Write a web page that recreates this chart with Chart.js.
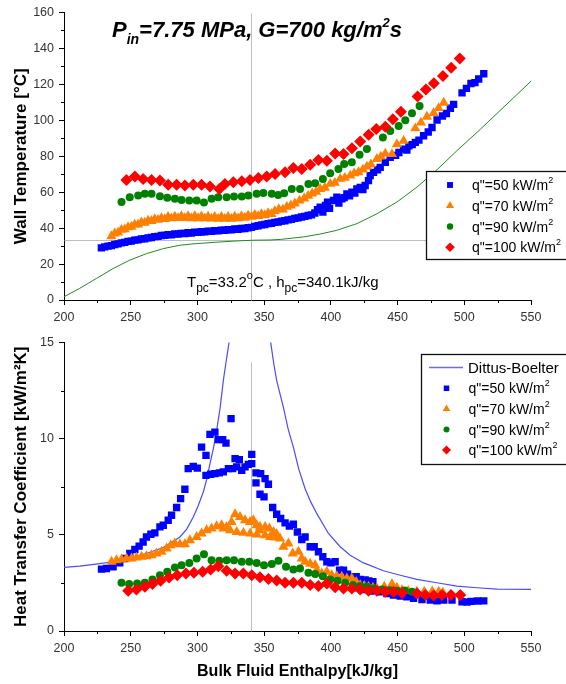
<!DOCTYPE html>
<html>
<head>
<meta charset="utf-8">
<script src="https://cdn.jsdelivr.net/npm/chart.js@4.4.1/dist/chart.umd.min.js"></script>
<style>
  body { margin: 0; background: #fff; }
  #wrap { position: relative; width: 566px; height: 684px; overflow: hidden; }
  canvas { position: absolute; left: 0; }
</style>
</head>
<body>
<div id="wrap">
  <canvas id="wall" width="566" height="330" style="top:0"></canvas>
  <canvas id="htc" width="566" height="354" style="top:330px"></canvas>
</div>
<script>
// pseudo-critical point
const hPc = 340.1;
const tPc = 33.2;

// --- top panel: wall temperature [degC] vs bulk enthalpy [kJ/kg] ---
const q50Wall = [[228,29],[230.5,29.6],[233,30],[235.5,30.3],[238,30.9],[240.5,31.2],[243,31.8],[245.5,32.1],[248,32.6],[250.5,32.8],[253,33.3],[255.5,33.5],[258,34],[260.5,34.1],[263,34.6],[265.5,34.8],[268,35.3],[270.5,35.4],[273,35.9],[275.5,36],[278,36.4],[280.5,36.3],[283,36.8],[285.5,36.7],[288,37.1],[290.5,37],[293,37.4],[295.5,37.3],[298,37.7],[300.5,37.6],[303,38],[305.5,37.9],[308,38.3],[310.5,38.2],[313,38.6],[315.5,38.5],[318,38.9],[320.5,38.8],[323,39.2],[325.5,39.1],[328,39.5],[330.5,39.4],[333,39.8],[335.5,39.8],[338,40.2],[340.5,40.4],[343,41],[345.5,41.3],[348,41.8],[350.5,42],[353,42.5],[355.5,42.7],[358,43.2],[360.5,43.4],[363,43.9],[365.5,44.1],[368,44.6],[370.5,44.9],[373,45.4],[375.5,45.7],[378,46.2],[380.5,46.5],[383,47],[385.5,47.4],[388,48.4],[390,50.2],[392,51.7],[394,49],[396,52.6],[397.5,54.4],[399,51],[402,55.4],[404.5,57.2],[406,54],[408.3,56.3],[410,57],[412,59.1],[414,58],[415.8,60],[418,59.5],[419.5,61.8],[422,62.7],[424,61.5],[425.7,63.7],[428.2,66.4],[429.5,69.2],[432,71],[435,72.5],[437,73.8],[440.8,76.6],[444.5,79.4],[448.5,80.5],[451,82.1],[454.5,84],[457,83.4],[458.5,85.8],[461,86.5],[463.3,87.7],[466,89],[469.5,91.4],[473,93.5],[475.8,96],[479.6,100.2],[483.6,102.4],[486.6,103.8],[489.6,106.7],[492,108.9],[498.3,115.3],[501.6,117.8],[505,120.5],[508,121],[510.8,123],[514.6,125.9]];
const q70Wall = [[235.5,35.5],[238,37],[240.5,37.5],[243,39],[245.5,39.3],[248,40.5],[250.5,40.8],[253,42],[255.5,42],[258,43.2],[260.5,43],[263,44.2],[265.5,44],[268,45],[270.5,44.6],[273,45.6],[275.5,45],[278,46.2],[280.5,45.4],[283,46.4],[285.5,45.6],[288,46.6],[290.5,45.6],[293,46.6],[295.5,45.5],[298,46.6],[300.5,45.5],[303,46.5],[305.5,45.4],[308,46.4],[310.5,45.3],[313,46.3],[315.5,45.2],[318,46.3],[320.5,45.2],[323,46.3],[325.5,45.2],[328,46.4],[330.5,45.4],[333,46.6],[335.5,45.8],[338,47],[340.5,46.3],[343,47.4],[345.5,46.7],[348,47.8],[350.5,47.2],[353,48.4],[355.5,47.9],[358,49.5],[361,50.5],[364,50.3],[367,51.8],[370,52.6],[373,53.7],[376.5,55.3],[380,56.5],[383,58],[386,59.3],[389,60.2],[392,61.8],[395.5,62.5],[399.5,64.6],[403,65.2],[407,67.4],[410.5,68],[414.5,69.2],[417.5,70.5],[420.7,71.1],[424,72.6],[427,74.2],[430,75.5],[434.5,78.5],[437.5,79.8],[440.8,81.5],[445.8,81.2],[449.5,86.6],[454.5,88.6],[463.3,95.5],[467.5,98.7],[472,102],[477,104],[480.8,106.8],[484.6,109.8]];
const q90Wall = [[243.1,54.5],[249.3,57.2],[255.6,58.1],[260.6,59.1],[265.6,59.1],[271.9,57.8],[277.4,56.9],[283.1,56.3],[288.1,55.7],[293.9,55.4],[299.4,55.4],[304.9,54.3],[310.6,56.3],[315.6,57.2],[321.9,57.2],[327.4,57.6],[333.2,57.6],[338.2,58.1],[344.4,59.1],[349.4,59.6],[355.7,59.1],[360.5,58.4],[365,59.4],[370.7,61.8],[376.9,61.8],[383.2,64.6],[388.2,65],[394,67.4],[399.5,70.5],[405.7,72.9],[410,75.7],[415.7,76.6],[421.5,80.8],[427,84],[439,90.4],[444.5,94.1],[450.8,96.9],[455.8,100],[460.8,103.9],[466.5,108]];
const q100Wall = [[246.8,66.8],[253.1,68.7],[259.3,67.4],[265.6,66.8],[271.9,66.5],[278.1,64.2],[284.4,64.2],[290.6,63.7],[296.9,64.2],[303.1,64.2],[309.4,63.1],[316.4,61.8],[320.6,64.6],[326.9,65.5],[333.2,66.1],[339.4,66.8],[345.7,67.9],[351.9,68.7],[358.2,70.1],[365.7,71.1],[371.9,73.5],[378.2,72.9],[384.5,75.3],[390.7,77.9],[397,77.5],[403.2,81.6],[409.5,81.2],[415.8,84.5],[422,88.2],[428.3,91.9],[434,95.1],[440.8,96.4],[446.5,100.6],[452.5,104.8],[465,113.3],[471.2,117.2],[477.2,120.6],[484,124.6],[490.2,129.2],[496.6,134.4]];
// bulk fluid temperature
const bulkTemp = [[200,1.8],[211.8,6.5],[224.3,12],[236.8,17.5],[249.3,22.2],[261.8,25.8],[274.4,28.6],[286.9,30.5],[299.4,31.4],[316.9,32.3],[330,32.9],[343,33.3],[354.4,33.4],[362,33.7],[379.5,35.1],[392,36.7],[404.5,38.8],[419.5,42.5],[434.5,48],[449.5,54.5],[464.5,62.8],[480,72.8],[494.5,83.1],[512,95],[537,112.6],[550,121.8]];

// --- bottom panel: heat transfer coefficient [kW/m2K] ---
const q50Htc = [[228.1,3.22],[231.8,3.25],[236.8,3.34],[241.8,3.54],[245.6,3.77],[249.3,4.03],[253.1,4.24],[256.3,4.41],[259.3,4.63],[261.8,4.89],[265.1,5.03],[268.1,5.1],[271.9,5.41],[274.4,5.5],[278.1,5.76],[280.6,6.02],[284.4,6.42],[287.4,6.88],[290.6,7.37],[293.1,8.44],[296.9,8.56],[299.9,8.47],[303.1,9.56],[306.4,9.13],[309.4,10.22],[313.1,10.34],[315.6,9.95],[318.9,9.95],[321.4,9.77],[325.2,11.04],
  [306.4,8.09],[309.9,8.15],[313.1,8.18],[316.4,8.22],[319.4,8.27],[323.2,8.44],[326.4,8.44],[328.2,8.96],[331.4,8.91],[329.4,8.53],[333.2,8.35],[335.7,8.53],[338.2,8.66],[340.7,9.18],[340.7,8.7],
  [343.9,8.22],[347.4,8.18],[343.9,7.7],[350.7,7.92],[353.2,7.63],[346.9,7.11],[349.9,6.97],[356.4,6.42],[359.4,6.07],[362.4,5.85],[365.7,5.62],[368.9,5.45],[371.9,5.55],[374.9,5.15],[378.2,4.76],[380.7,4.89],[384.5,4.38],[387.5,4.38],[390.7,4.12],[394,3.86],[397,3.6],[400,3.54],[403.2,3.6],[406.5,3.16],[409.5,3.16],[412.5,2.95],[415.7,2.82],[419,2.82],[422,2.68],[425.7,2.65],[428.5,2.6],[431.5,2.56],
  [420,2.25],[425,2.15],[430,2.08],[437,2.04],[442,1.95],[447,1.87],[452,1.82],[457,1.78],[462,1.7],[468.3,1.64],[474.5,1.61],[479.5,1.57],[484.6,1.61],[490.8,1.61],[498.3,1.52],[502,1.5],[505,1.54],[510,1.56],[514.6,1.57]];
const q70Htc = [[235.6,3.6],[239.3,3.68],[243.1,3.72],[246.8,3.77],[250.6,3.77],[254.3,3.82],[258.1,3.86],[261.8,3.89],[265.6,3.94],[269.3,4.03],[273.1,4.12],[276.9,4.29],[280,4.45],[283.1,4.55],[286.9,4.51],[290.6,4.51],[294.4,4.72],[299.4,4.89],[303.1,5.07],[306.9,5.24],[310.6,5.33],[314.4,5.45],[318.1,5.5],[321.9,5.41],[325.6,5.67],[328.2,6.07],[331.9,5.93],[335.7,5.76],[339.4,5.67],[341.9,5.76],[344.4,5.5],[346.9,5.41],[350.7,5.41],[353.9,5.33],[357,5.15],[359.4,5.03],
  [319.5,5.33],[324.5,5.24],[329.5,5.15],[334.5,5.1],[339.5,5.07],[344.5,5.02],[346.9,5.24],[350.7,4.98],[354.4,4.89],[358,4.86],[361.9,4.81],[364.4,4.38],[368.2,4.55],[371.4,4.03],[375.7,4.12],[378.2,3.77],[380.7,3.6],[384.5,3.5],[388.2,3.42],[389.5,3.16],[393.2,2.99],[397,3.08],[400.7,2.9],[404.5,2.85],[408.2,2.82],[412,2.73],[415.7,2.73],[419,2.55],[422,2.39],[425,2.35],[428.2,2.3],[431.5,2.25],[434.5,2.21],[440,2.3],[445.8,2.44],[449.5,2.25],[453.3,2.13],[458,2.08],[464.5,2.04],[470,2.04],[476,2.06],[480.8,2.04],[484,1.99]];
const q90Htc = [[243.1,2.51],[248.8,2.44],[254.8,2.47],[260.6,2.51],[266.3,2.68],[271.9,2.9],[277.4,3.08],[283.1,3.3],[288.1,3.42],[293.9,3.54],[299.4,3.77],[304.9,3.99],[310.6,3.68],[316.4,3.65],[321.9,3.68],[327.4,3.68],[333.2,3.6],[338.9,3.6],[344.4,3.54],[349.9,3.42],[355.7,3.48],[360.7,3.65],[366.4,3.34],[371.9,3.2],[376.9,3.25],[383.2,3.03],[388.2,2.96],[394,2.85],[399.5,2.68],[405,2.61],[410.7,2.51],[416.5,2.39],[422,2.34],[427,2.3],[432,2.21],[438.3,2.16],[444,2.12],[449.5,2.09],[455.3,2.1],[460.8,2.04]];
const q100Htc = [[248.1,2.09],[254.3,2.16],[260.6,2.3],[266.3,2.44],[272.4,2.61],[278.8,2.78],[284.9,2.9],[291.4,2.99],[297.4,3.03],[303.9,3.08],[309.9,3.2],[315.6,3.37],[321.9,3.13],[328.2,2.99],[334.4,2.99],[340.7,2.9],[346.9,2.8],[353.2,2.7],[359.4,2.63],[365.7,2.51],[371.9,2.51],[378.2,2.51],[384.5,2.39],[390.7,2.34],[397,2.47],[403.2,2.27],[409.5,2.21],[415.7,2.21],[422,2.16],[428.2,2.09],[434.5,2.09],[440.8,2.04],[447,2.04],[453.3,1.97],[464.5,1.95],[470.8,1.87],[477,1.84],[483.3,1.87],[490,1.87],[497,1.87]];
// Dittus-Boelter correlation (peak runs off the top of the axis)
const dittusBoelter = [[200,3.31],[211.8,3.37],[224,3.48],[236.8,3.6],[249,3.78],[261.8,4.03],[274.4,4.34],[286.9,4.89],[292,5.3],[296.9,5.93],[300.5,6.5],[304.4,7.23],[307,7.9],[309.4,8.7],[312,9.5],[314.4,10.43],[317,11.6],[319.4,13.02],[321.5,14],[323.9,15.1],[330,20],[340,26],[350,19],[354.9,15.01],[357,14],[359.4,13.02],[364.4,11.64],[368,10.5],[371.9,9.56],[376,8.4],[380.7,7.4],[385,6.7],[389.5,6.1],[398.2,5.07],[407,4.38],[414.5,3.94],[424.5,3.54],[439.5,3.13],[452,2.9],[464.5,2.68],[479.4,2.51],[494.5,2.33],[509.5,2.25],[524.6,2.18],[550,2.16]];

const FONT = '"Liberation Sans", Arial, Helvetica, sans-serif';
Chart.defaults.font.family = FONT;

const PLOT_LEFT = 64;
const PLOT_RIGHT = 531;

const series = [
  {label: 'q"=50 kW/m', style: 'rect',     color: '#0000ff', r: 5.2, wall: q50Wall,  htc: q50Htc},
  {label: 'q"=70 kW/m', style: 'triangle', color: '#ff8000', r: 5.9, wall: q70Wall,  htc: q70Htc},
  {label: 'q"=90 kW/m', style: 'circle',   color: '#008000', r: 4.0, wall: q90Wall,  htc: q90Htc},
  {label: 'q"=100 kW/m', style: 'rectRot', color: '#ff0000', r: 6.0, wall: q100Wall, htc: q100Htc}
];

const toPts = arr => arr.map(p => ({x: p[0], y: p[1]}));

function markerSets(key) {
  return series.map((s, i) => ({
    data: toPts(s[key]),
    pointStyle: s.style,
    pointRadius: s.r,
    backgroundColor: s.color,
    pointBackgroundColor: s.color,
    pointBorderWidth: 0,
    borderWidth: 0,
    order: 4 - i
  }));
}

function rich(ctx, x, y, parts) {
  for (const p of parts) {
    ctx.font = p[1];
    ctx.fillText(p[0], x, y + (p[2] || 0));
    x += ctx.measureText(p[0]).width;
  }
}
const rg = s => `${s}px ${FONT}`;
const bi = s => `italic bold ${s}px ${FONT}`;

const refLines = {
  id: 'refLines',
  beforeDatasetsDraw(chart, args, opts) {
    const {ctx, scales: {x, y}} = chart;
    ctx.save();
    ctx.strokeStyle = '#bdbdbd';
    ctx.lineWidth = 1;
    ctx.beginPath();
    for (const l of opts.lines) {
      const x1 = Math.round(x.getPixelForValue(l[0])) + 0.5, y1 = Math.round(y.getPixelForValue(l[1])) + 0.5;
      const x2 = Math.round(x.getPixelForValue(l[2])) + 0.5, y2 = Math.round(y.getPixelForValue(l[3])) + 0.5;
      ctx.moveTo(x1, y1);
      ctx.lineTo(x2, y2);
    }
    ctx.stroke();
    ctx.restore();
  }
};

const minorTicks = {
  id: 'minorTicks',
  afterDraw(chart, args, opts) {
    const {ctx, chartArea, scales: {x, y}} = chart;
    ctx.save();
    ctx.strokeStyle = '#000';
    ctx.lineWidth = 1;
    ctx.beginPath();
    for (let v = 225; v < 550; v += 50) {
      const px = Math.round(x.getPixelForValue(v)) + 0.5;
      ctx.moveTo(px, chartArea.bottom);
      ctx.lineTo(px, chartArea.bottom + 3);
    }
    for (let v = opts.step / 2; v < opts.max; v += opts.step) {
      const py = Math.round(y.getPixelForValue(v)) + 0.5;
      ctx.moveTo(chartArea.left, py);
      ctx.lineTo(chartArea.left - 3, py);
    }
    ctx.stroke();
    ctx.restore();
  }
};

function drawLegendRows(ctx, x0, y0, dy, scale) {
  series.forEach((s, i) => {
    const y = y0 + i * dy;
    ctx.fillStyle = s.color;
    Chart.helpers.drawPoint(ctx, {pointStyle: s.style, radius: s.r * scale, rotation: 0, borderWidth: 0}, x0, y);
    ctx.fillStyle = '#000';
    rich(ctx, x0 + 22, y + 5, [[s.label, rg(14)], ['2', rg(9), -7]]);
  });
}

const wallDecor = {
  id: 'wallDecor',
  afterDraw(chart) {
    const ctx = chart.ctx;
    ctx.save();
    ctx.fillStyle = '#000';
    ctx.textBaseline = 'alphabetic';
    rich(ctx, 112, 37, [['P', bi(22)], ['in', bi(14), 7], ['=7.75 MPa, G=700 kg/m', bi(22)], ['2', bi(13), -10], ['s', bi(22)]]);
    rich(ctx, 187, 287, [['T', rg(15)], ['pc', rg(12), 5], ['=33.2', rg(15)], ['o', rg(11), -8], ['C , h', rg(15)], ['pc', rg(12), 5], ['=340.1kJ/kg', rg(15)]]);
    ctx.fillStyle = '#fff';
    ctx.fillRect(426.5, 171.5, 200, 88);
    ctx.strokeStyle = '#111';
    ctx.lineWidth = 1.3;
    ctx.strokeRect(426.5, 171.5, 200, 88);
    drawLegendRows(ctx, 450, 185, 20.75, 0.8);
    ctx.restore();
  }
};

const htcDecor = {
  id: 'htcDecor',
  afterDraw(chart) {
    const ctx = chart.ctx;
    ctx.save();
    ctx.textBaseline = 'alphabetic';
    ctx.fillStyle = '#fff';
    ctx.fillRect(421.5, 24.5, 200, 110);
    ctx.strokeStyle = '#111';
    ctx.lineWidth = 1.3;
    ctx.strokeRect(421.5, 24.5, 200, 110);
    ctx.strokeStyle = '#6a6aff';
    ctx.lineWidth = 1.5;
    ctx.beginPath();
    ctx.moveTo(429, 37.5);
    ctx.lineTo(463, 37.5);
    ctx.stroke();
    ctx.fillStyle = '#000';
    rich(ctx, 468, 43, [['Dittus-Boelter', rg(15)]]);
    drawLegendRows(ctx, 446.5, 58.3, 20.6, 0.75);
    ctx.restore();
  }
};

function panelOptions(cfg) {
  return {
    responsive: false,
    animation: false,
    events: [],
    layout: {padding: {left: 0, right: 566 - PLOT_RIGHT, top: cfg.top, bottom: 0}},
    plugins: {
      legend: {display: false},
      tooltip: {enabled: false},
      refLines: {lines: cfg.lines},
      minorTicks: {step: cfg.yStep, max: cfg.yMax}
    },
    scales: {
      x: {
        type: 'linear',
        min: 200,
        max: 550,
        ticks: {stepSize: 50, color: '#333', font: {size: 12.5}, padding: 5, maxRotation: 0},
        grid: {drawOnChartArea: false, drawTicks: true, tickLength: 5, color: '#000'},
        border: {color: '#000', width: 1},
        title: cfg.xTitle
          ? {display: true, text: cfg.xTitle, color: '#000', font: {size: 16, weight: 'bold'}, padding: {top: 0, bottom: 3}}
          : {display: false},
        afterFit: s => { s.height = cfg.height - cfg.bottom; }
      },
      y: {
        type: 'linear',
        min: 0,
        max: cfg.yMax,
        ticks: {stepSize: cfg.yStep, color: '#333', font: {size: 12.5}, padding: 5},
        grid: {drawOnChartArea: false, drawTicks: true, tickLength: 5, color: '#000'},
        border: {color: '#000', width: 1},
        title: {display: true, text: cfg.yTitle, color: '#000', font: {size: 17, weight: 'bold'}, padding: {top: 11, bottom: 0}},
        afterFit: s => { s.width = PLOT_LEFT; }
      }
    }
  };
}

new Chart(document.getElementById('wall'), {
  type: 'scatter',
  data: {
    datasets: [
      ...markerSets('wall'),
      {data: toPts(bulkTemp), showLine: true, pointRadius: 0, borderColor: '#1e8c1e', borderWidth: 1, order: 5}
    ]
  },
  options: panelOptions({
    top: 11, height: 330, bottom: 300, yMax: 160, yStep: 20,
    yTitle: 'Wall Temperature [°C]',
    lines: [[hPc, 0, hPc, 160], [200, tPc, 550, tPc]]
  }),
  plugins: [refLines, minorTicks, wallDecor]
});

new Chart(document.getElementById('htc'), {
  type: 'scatter',
  data: {
    datasets: [
      {data: toPts(dittusBoelter), showLine: true, pointRadius: 0, borderColor: '#4a4aff', borderWidth: 1.2, order: 5},
      ...markerSets('htc')
    ]
  },
  options: panelOptions({
    top: 12, height: 354, bottom: 301, yMax: 15, yStep: 5,
    yTitle: 'Heat Transfer Coefficient [kW/m²K]',
    xTitle: 'Bulk Fluid Enthalpy[kJ/kg]',
    lines: [[hPc, 0, hPc, 14]]
  }),
  plugins: [refLines, minorTicks, htcDecor]
});
</script>
</body>
</html>
